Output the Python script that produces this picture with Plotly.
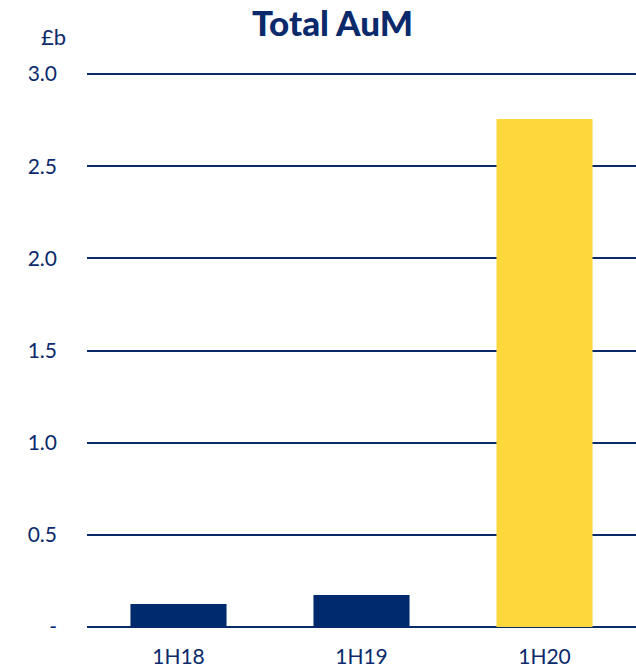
import plotly.graph_objects as go

# ── Data ─────────────────────────────────────────────────────────────────────
periods = ["1H18", "1H19", "1H20"]
aum_bn = [0.125, 0.174, 2.756]
bar_colors = ["#002A6E", "#002A6E", "#FDD83C"]
tick_vals = [0, 0.5, 1.0, 1.5, 2.0, 2.5, 3.0]
tick_text = ["-", "0.5", "1.0", "1.5", "2.0", "2.5", "3.0"]

NAVY = "#0B2A6B"
FONT = "Lato, sans-serif"

# plot area in pixels
L, T, B = 87, 72, 43
PW, PH = 636 - L, 670 - T - B

fig = go.Figure(go.Bar(
    x=periods,
    y=aum_bn,
    marker=dict(color=bar_colors, line=dict(width=0)),
    width=0.525,
))

fig.update_layout(
    width=636,
    height=670,
    paper_bgcolor="white",
    plot_bgcolor="white",
    font=dict(family=FONT, size=21, color=NAVY),
    margin=dict(l=L, r=0, t=T, b=B, autoexpand=False),
    showlegend=False,
    title=dict(
        text="Total AuM",
        x=0.523, xanchor="center",
        y=1 - 24 / 670, yanchor="middle",
        font=dict(size=35, color=NAVY, family=FONT, weight=900),
    ),
    xaxis=dict(
        showgrid=False,
        showline=False,
        ticks="",
        automargin=False,
        ticklabelstandoff=15,
        tickfont=dict(size=21, color=NAVY),
    ),
    yaxis=dict(
        range=[0, 3.0 * 553 / 551],
        tickvals=tick_vals,
        ticktext=tick_text,
        showgrid=True,
        gridcolor=NAVY,
        gridwidth=2,
        zeroline=True,
        zerolinecolor=NAVY,
        zerolinewidth=2,
        ticks="",
        automargin=False,
        ticklabelstandoff=29,
        tickfont=dict(size=21, color=NAVY),
    ),
    annotations=[dict(
        text="£b",
        xref="paper", yref="paper",
        x=-(L - 53) / PW, xanchor="center",
        y=1 + (T - 37) / PH, yanchor="middle",
        showarrow=False,
        font=dict(size=22, color=NAVY, family=FONT),
    )],
)

# drop the browser's default body margin so the figure sits at (0, 0)
fig.write_html(
    "out.html",
    config={"displayModeBar": False},
    post_script="document.body.style.margin='0';",
)
